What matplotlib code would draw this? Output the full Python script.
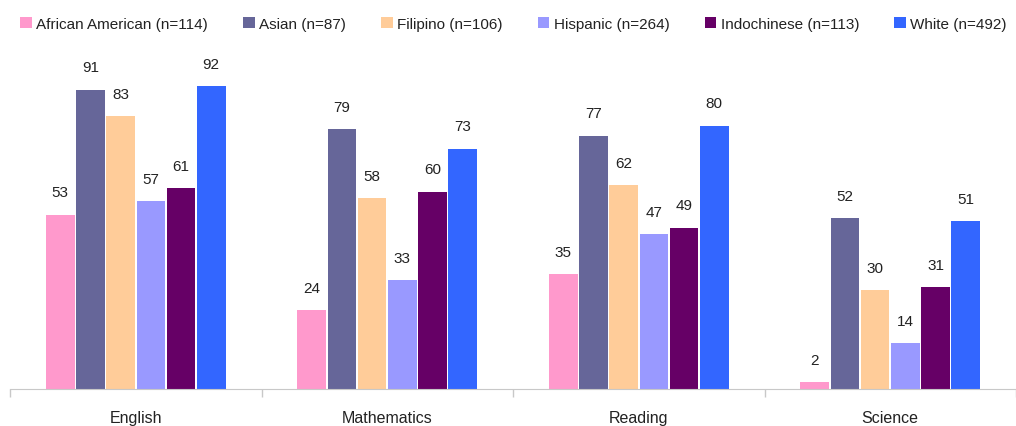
import matplotlib
matplotlib.use("Agg")
import matplotlib.pyplot as plt
import numpy as np

subjects = ["English", "Mathematics", "Reading", "Science"]
groups = [
    "African American (n=114)",
    "Asian (n=87)",
    "Filipino (n=106)",
    "Hispanic (n=264)",
    "Indochinese (n=113)",
    "White (n=492)",
]
colors = ["#FF99CC", "#666699", "#FFCC99", "#9999FF", "#660066", "#3366FF"]

african_american = [53, 24, 35, 2]
asian = [91, 79, 77, 52]
filipino = [83, 58, 62, 30]
hispanic = [57, 33, 47, 14]
indochinese = [61, 60, 49, 31]
white = [92, 73, 80, 51]
series = [african_american, asian, filipino, hispanic, indochinese, white]

plt.rcParams["font.family"] = ["Liberation Sans", "DejaVu Sans"]

fig = plt.figure(figsize=(10.16, 4.27), dpi=100)
ax = fig.add_axes([10 / 1016, 1 - 390 / 427, 1006 / 1016, 390 / 427])

x = np.arange(len(subjects))
step = 0.12
width = 0.114
for k, (vals, name, col) in enumerate(zip(series, groups, colors)):
    pos = x + (k - 2.5) * step
    ax.bar(pos, vals, width=width, color=col, label=name)
    for px, v in zip(pos, vals):
        ax.annotate(str(v), (px, v), xytext=(0, 11), textcoords="offset points",
                    ha="center", va="bottom", fontsize=11, color="#222222")

ax.set_xlim(-0.5, 3.45)
ax.set_ylim(0, 118.5)
ax.set_yticks([])
ax.set_xticks(x)
ax.set_xticklabels(subjects, fontsize=11.5, color="#222222")
ax.set_xticks(np.arange(-0.5, 4, 1), minor=True)
ax.tick_params(axis="x", which="major", length=0, pad=15)
ax.tick_params(axis="x", which="minor", length=6, color="#C8C8C8", width=1)
for s in ["top", "right", "left"]:
    ax.spines[s].set_visible(False)
ax.spines["bottom"].set_color("#C8C8C8")

fig.legend(loc="upper left", bbox_to_anchor=(14 / 1016, 1 - 12 / 427), ncol=6,
           frameon=False, fontsize=11, handlelength=0.75, handleheight=0.75,
           handletextpad=0.3, columnspacing=2.3, borderaxespad=0,
           labelcolor="#222222")

fig.savefig("out.png", dpi=100)
